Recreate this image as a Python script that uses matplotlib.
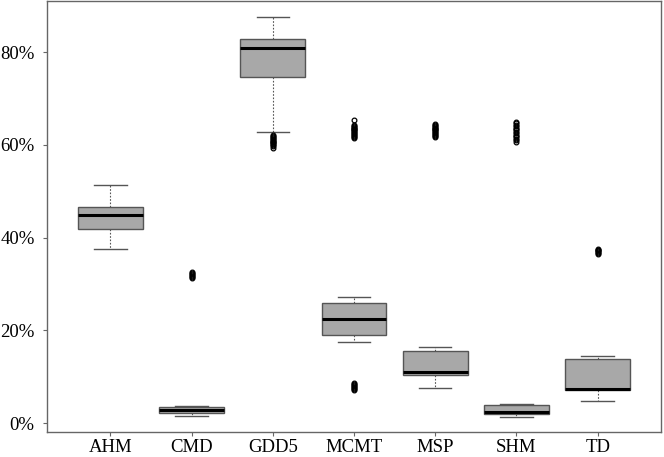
import matplotlib
matplotlib.use("Agg")
import matplotlib.pyplot as plt
from matplotlib.ticker import FuncFormatter

# Variable names and box statistics (in %)
labels = ["AHM", "CMD", "GDD5", "MCMT", "MSP", "SHM", "TD"]
whislo = [37.5, 1.5, 62.8, 17.5, 7.6, 1.3, 4.7]
q1 = [41.9, 2.2, 74.6, 19.0, 10.35, 1.9, 7.1]
med = [44.9, 2.7, 80.8, 22.4, 11.0, 2.45, 7.4]
q3 = [46.5, 3.4, 82.7, 25.8, 15.5, 3.8, 13.8]
whishi = [51.3, 3.6, 87.6, 27.2, 16.3, 4.1, 14.5]

# Outliers (in %)
fliers_ahm = []
fliers_cmd = [32.5, 32.3, 32.1, 31.9, 31.7, 31.5, 31.3]
fliers_gdd5 = [62.1, 61.9, 61.7, 61.5, 61.3, 61.1, 60.9, 60.7, 60.5,
               60.3, 60.1, 59.9, 59.7, 59.4]
fliers_mcmt = [65.3, 64.3, 64.1, 63.9, 63.7, 63.5, 63.3, 63.1, 62.9, 62.7,
               62.5, 62.3, 62.1, 61.9, 61.7, 61.5,
               8.6, 8.4, 8.2, 8.0, 7.8, 7.6, 7.4, 7.2]
fliers_msp = [64.5, 64.3, 64.1, 63.9, 63.7, 63.5, 63.3, 63.1, 62.9, 62.7,
              62.5, 62.3, 62.1, 61.9, 61.6]
fliers_shm = [65.0, 64.6, 64.3, 64.0, 63.7, 63.4, 63.1, 62.8, 62.5, 62.2,
              61.9, 61.6, 61.3, 61.0, 60.6]
fliers_td = [37.6, 37.4, 37.2, 37.0, 36.8, 36.6, 36.4]
fliers = [fliers_ahm, fliers_cmd, fliers_gdd5, fliers_mcmt, fliers_msp, fliers_shm, fliers_td]

plt.rcParams["font.family"] = ["Liberation Serif", "DejaVu Serif"]

fig = plt.figure(figsize=(6.64, 4.57), dpi=100)
ax = fig.add_axes([47 / 664, 25 / 457, 614 / 664, 431 / 457])

stats = []
for i in range(len(labels)):
    stats.append({
        "label": labels[i],
        "whislo": whislo[i], "q1": q1[i], "med": med[i],
        "q3": q3[i], "whishi": whishi[i], "fliers": fliers[i],
    })

edge = "#555555"
ax.bxp(
    stats,
    widths=0.8,
    patch_artist=True,
    boxprops=dict(facecolor="#a8a8a8", edgecolor=edge, linewidth=1.0),
    medianprops=dict(color="black", linewidth=2.2),
    whiskerprops=dict(color=edge, linewidth=0.8, linestyle=(0, (1.5, 1.5))),
    capprops=dict(color=edge, linewidth=1.0),
    capwidths=0.4,
    flierprops=dict(marker="o", markersize=3.4, markerfacecolor="none",
                    markeredgecolor="black", markeredgewidth=0.9),
)

ax.set_xlim(0.22, 7.78)
ax.set_ylim(-1.94, 91.0)
ax.set_yticks([0, 20, 40, 60, 80])
ax.yaxis.set_major_formatter(FuncFormatter(lambda v, p: f"{v:.0f}%"))

for s in ax.spines.values():
    s.set_color("#666666")
    s.set_linewidth(1.0)

ax.tick_params(axis="both", colors="#666666", labelcolor="black",
               length=3, width=0.8, labelsize=13.5)
ax.tick_params(axis="y", pad=6)
ax.tick_params(axis="x", pad=2)

fig.savefig("out.png", dpi=100)
